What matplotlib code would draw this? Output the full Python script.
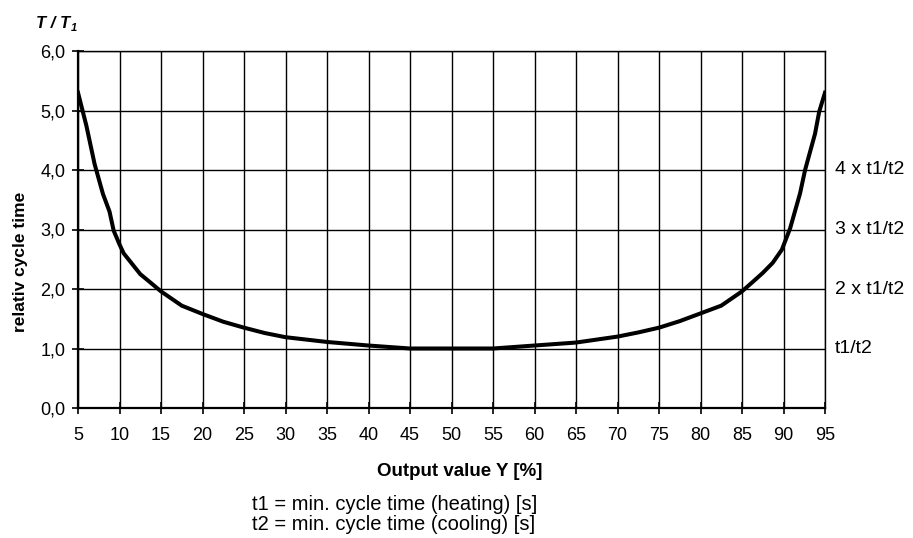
import matplotlib
matplotlib.use("Agg")
import matplotlib.pyplot as plt
import matplotlib.transforms as mtransforms

plt.rcParams['font.family'] = ['Liberation Sans', 'DejaVu Sans']

# Data
output_value = [5, 6, 7, 8, 8.8, 9.3, 10, 10.5, 12.5, 13.8, 15, 17.5, 20, 22.5, 25,
                27.5, 30, 35, 40, 45, 50, 55, 60, 65, 70, 72.5, 75, 77.5, 80, 82.5,
                85, 86.3, 87.5, 88.7, 89.8, 90.8, 92, 92.6, 93.8, 94.3, 95]
cycle_time = [5.30, 4.75, 4.10, 3.60, 3.30, 2.98, 2.75, 2.60, 2.25, 2.10, 1.96, 1.72,
              1.58, 1.45, 1.35, 1.26, 1.19, 1.11, 1.05, 1.00, 1.00, 1.00, 1.05, 1.10,
              1.20, 1.27, 1.35, 1.46, 1.59, 1.72, 1.96, 2.12, 2.27, 2.44, 2.66, 3.02,
              3.61, 4.00, 4.61, 4.98, 5.30]
x_ticks = list(range(5, 96, 5))
y_ticks = [0, 1, 2, 3, 4, 5, 6]
y_tick_labels = ["0,0", "1,0", "2,0", "3,0", "4,0", "5,0", "6,0"]
right_label_values = [1, 2, 3, 4]
right_labels = ["t1/t2", "2 x t1/t2", "3 x t1/t2", "4 x t1/t2"]

fig = plt.figure(figsize=(9.13, 5.38), dpi=100)
ax = fig.add_axes([78/913, 1-408/538, (825-78)/913, (408-51)/538])

ax.set_xlim(5, 95)
ax.set_ylim(0, 6)
ax.set_xticks(x_ticks)
ax.set_yticks(y_ticks)
ax.set_yticklabels(y_tick_labels)
ax.grid(True, color='black', linewidth=1.0)
ax.set_axisbelow(True)
for s in ax.spines.values():
    s.set_color('black')
    s.set_linewidth(1.0)
ax.spines['left'].set_linewidth(1.6)
ax.spines['bottom'].set_linewidth(1.6)
ax.tick_params(axis='both', direction='inout', length=8, width=1.2, labelsize=13,
               colors='black')
ax.tick_params(axis='y', pad=5)
ax.tick_params(axis='x', pad=10)

ax.plot(output_value, cycle_time, color='black', linewidth=2.9, solid_joinstyle='round')

trans = mtransforms.blended_transform_factory(ax.transAxes, ax.transData)
for v, lab in zip(right_label_values, right_labels):
    ax.text(1.0 + 10/747, v, lab, transform=trans, ha='left', va='center', fontsize=14)

fig.text(20/913, 1-262/538, "relativ cycle time", rotation=90, ha='center', va='center',
         fontsize=12.5, fontweight='bold')
t = fig.text(36/913, 1-24/538, "T / T", ha='left', va='center', fontsize=12,
             fontweight='bold', fontstyle='italic')
ax.annotate("1", xy=(1, 0), xycoords=t, xytext=(0.5, -1), textcoords='offset points',
            ha='left', va='bottom', fontsize=8, fontweight='bold', fontstyle='italic',
            annotation_clip=False)
fig.text(460/913, 1-471/538, "Output value Y [%]", ha='center', va='center',
         fontsize=13.5, fontweight='bold')
fig.text(252/913, 1-504/538, "t1 = min. cycle time (heating) [s]", ha='left', va='center',
         fontsize=14.5)
fig.text(252/913, 1-525/538, "t2 = min. cycle time (cooling) [s]", ha='left', va='center',
         fontsize=14.5)

fig.savefig("out.png", dpi=100)
